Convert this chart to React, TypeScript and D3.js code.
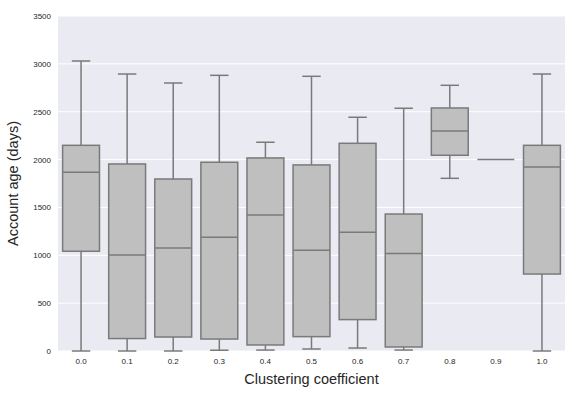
import { useEffect, useRef } from 'react'
import * as d3 from 'd3'

// Clustering coefficient categories
const categories = ['0.0', '0.1', '0.2', '0.3', '0.4', '0.5', '0.6', '0.7', '0.8', '0.9', '1.0']

// Box statistics (account age, days)
const whiskerLow = [0, 0, 0, 8, 10, 21, 31, 10, 1804, 2000, 0]
const q1 = [1042, 130, 146, 125, 63, 150, 328, 42, 2045, 2000, 804]
const median = [1867, 1003, 1076, 1188, 1421, 1052, 1240, 1018, 2299, 2000, 1922]
const q3 = [2149, 1954, 1797, 1972, 2017, 1944, 2170, 1431, 2539, 2000, 2149]
const whiskerHigh = [3030, 2894, 2800, 2880, 2181, 2870, 2442, 2536, 2776, 2000, 2894]

const yTicks = [0, 500, 1000, 1500, 2000, 2500, 3000, 3500]

const FONT = "'Liberation Sans', Arial, sans-serif"

export default function App() {
  const svgRef = useRef<SVGSVGElement>(null)

  useEffect(() => {
    if (!svgRef.current) return
    const svg = d3.select(svgRef.current)
    svg.selectAll('*').remove()

    const width = 576
    const height = 396
    const margin = { top: 16, right: 11, bottom: 45, left: 58 }
    const chartWidth = width - margin.left - margin.right
    const chartHeight = height - margin.top - margin.bottom

    const g = svg.append('g').attr('transform', `translate(${margin.left},${margin.top})`)

    const x = d3.scaleBand().domain(categories).range([0, chartWidth]).paddingInner(0).paddingOuter(0)
    const y = d3.scaleLinear().domain([0, 3500]).range([chartHeight, 0])

    // background
    g.append('rect')
      .attr('width', chartWidth)
      .attr('height', chartHeight)
      .attr('fill', '#EAEAF2')

    // grid
    g.selectAll('.grid')
      .data(yTicks)
      .enter()
      .append('line')
      .attr('x1', 0)
      .attr('x2', chartWidth)
      .attr('y1', d => y(d))
      .attr('y2', d => y(d))
      .attr('stroke', '#ffffff')
      .attr('stroke-width', 1)

    // y tick labels
    g.selectAll('.ytick')
      .data(yTicks)
      .enter()
      .append('text')
      .attr('x', -7)
      .attr('y', d => y(d) + 3)
      .attr('text-anchor', 'end')
      .style('font-family', FONT)
      .style('font-size', '8px')
      .attr('fill', '#262626')
      .text(d => d)

    // x tick labels
    g.selectAll('.xtick')
      .data(categories)
      .enter()
      .append('text')
      .attr('x', d => x(d)! + x.bandwidth() / 2)
      .attr('y', chartHeight + 13)
      .attr('text-anchor', 'middle')
      .style('font-family', FONT)
      .style('font-size', '8px')
      .attr('fill', '#262626')
      .text(d => d)

    const stroke = '#7a7a7a'
    const boxW = x.bandwidth() * 0.8
    const capW = boxW * 0.5

    const boxes = g.selectAll('.box')
      .data(categories.map((c, i) => ({
        c, lo: whiskerLow[i], q1: q1[i], med: median[i], q3: q3[i], hi: whiskerHigh[i]
      })))
      .enter()
      .append('g')
      .attr('transform', d => `translate(${x(d.c)! + x.bandwidth() / 2},0)`)

    // whiskers
    boxes.append('line')
      .attr('x1', 0).attr('x2', 0)
      .attr('y1', d => y(d.lo)).attr('y2', d => y(d.q1))
      .attr('stroke', stroke).attr('stroke-width', 1.5)
    boxes.append('line')
      .attr('x1', 0).attr('x2', 0)
      .attr('y1', d => y(d.q3)).attr('y2', d => y(d.hi))
      .attr('stroke', stroke).attr('stroke-width', 1.5)

    // caps
    boxes.filter(d => d.hi !== d.q3).append('line')
      .attr('x1', -capW / 2).attr('x2', capW / 2)
      .attr('y1', d => y(d.hi)).attr('y2', d => y(d.hi))
      .attr('stroke', stroke).attr('stroke-width', 1.5)
    boxes.filter(d => d.lo !== d.q1).append('line')
      .attr('x1', -capW / 2).attr('x2', capW / 2)
      .attr('y1', d => y(d.lo)).attr('y2', d => y(d.lo))
      .attr('stroke', stroke).attr('stroke-width', 1.5)

    // box body
    boxes.append('rect')
      .attr('x', -boxW / 2)
      .attr('width', boxW)
      .attr('y', d => y(d.q3))
      .attr('height', d => y(d.q1) - y(d.q3))
      .attr('fill', '#bfbfbf')
      .attr('stroke', stroke)
      .attr('stroke-width', 1.5)

    // median
    boxes.append('line')
      .attr('x1', -boxW / 2).attr('x2', boxW / 2)
      .attr('y1', d => y(d.med)).attr('y2', d => y(d.med))
      .attr('stroke', stroke).attr('stroke-width', 1.5)

    // axis labels
    g.append('text')
      .attr('x', chartWidth / 2)
      .attr('y', chartHeight + 33)
      .attr('text-anchor', 'middle')
      .style('font-family', FONT)
      .style('font-size', '14.5px')
      .attr('fill', '#262626')
      .text('Clustering coefficient')

    g.append('text')
      .attr('transform', 'rotate(-90)')
      .attr('x', -chartHeight / 2)
      .attr('y', -40)
      .attr('text-anchor', 'middle')
      .style('font-family', FONT)
      .style('font-size', '14.5px')
      .attr('fill', '#262626')
      .text('Account age (days)')
  }, [])

  return (
    <svg
      ref={svgRef}
      width={576}
      height={396}
      style={{ position: 'absolute', left: 0, top: 0, background: '#fff' }}
    />
  )
}
